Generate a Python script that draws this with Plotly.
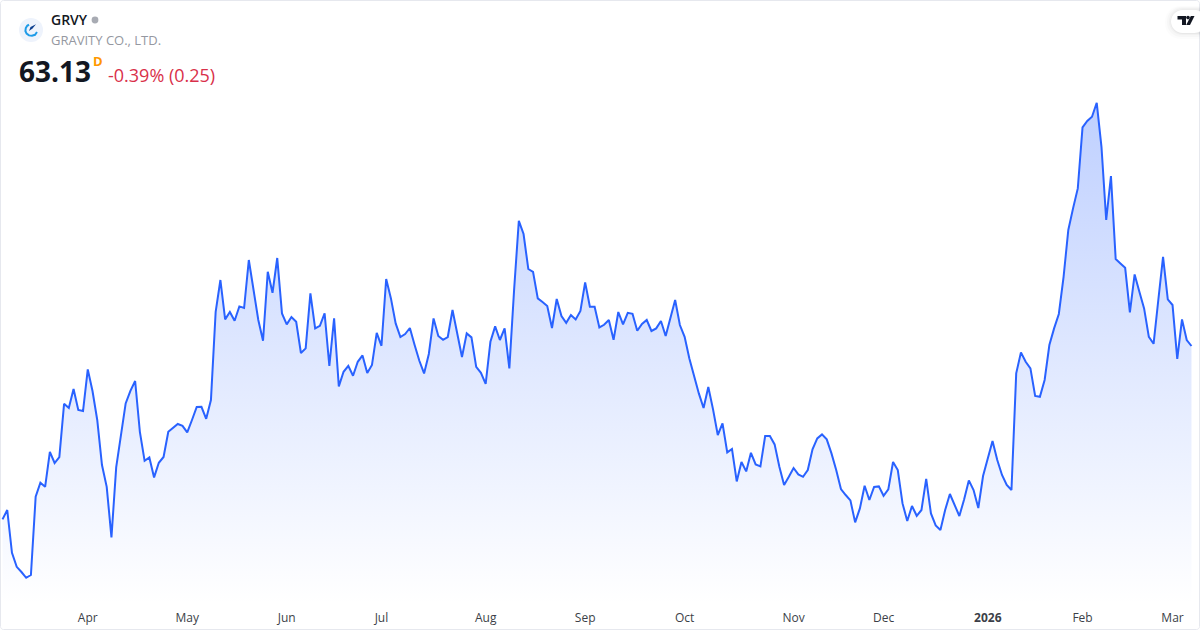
"""GRVY daily area chart, TradingView mini widget style."""

import pandas as pd
import plotly.graph_objects as go

WIDTH = 1200
HEIGHT = 630
BOTTOM = 26
PLOT_H = HEIGHT - BOTTOM

prices = [
    54.46, 54.93, 52.79, 52.09, 51.83, 51.54, 51.68, 55.59, 56.29, 56.09,
    57.84, 57.28, 57.58, 60.24, 60.03, 60.98, 59.93, 59.88, 61.96, 60.88,
    59.43, 57.18, 56.09, 53.56, 57.06, 58.68, 60.26, 60.89, 61.38, 58.84,
    57.39, 57.56, 56.56, 57.29, 57.58, 58.84, 59.04, 59.23, 59.14, 58.81,
    59.43, 60.08, 60.09, 59.49, 60.43, 64.84, 66.43, 64.46, 64.83, 64.39,
    65.11, 65.03, 67.43, 65.93, 64.43, 63.39, 66.84, 65.79, 67.53, 64.76,
    64.21, 64.58, 64.34, 62.78, 63.01, 65.76, 64.01, 64.14, 64.76, 62.13,
    64.51, 61.11, 61.84, 62.14, 61.64, 62.34, 62.66, 61.78, 62.18, 63.79,
    63.14, 66.48, 65.51, 64.26, 63.58, 63.73, 64.03, 63.18, 62.39, 61.76,
    62.73, 64.51, 63.63, 63.44, 63.58, 64.93, 63.68, 62.58, 63.76, 63.56,
    62.09, 61.79, 61.24, 63.34, 64.11, 63.43, 64.01, 62.01, 65.93, 69.39,
    68.73, 66.98, 66.84, 65.51, 65.33, 65.13, 64.03, 65.48, 64.63, 64.29,
    64.68, 64.46, 64.88, 66.31, 65.09, 65.09, 64.06, 64.19, 64.43, 63.44,
    64.83, 64.21, 64.79, 64.74, 63.89, 64.23, 64.43, 63.88, 64.01, 64.38,
    63.63, 64.51, 65.43, 64.18, 63.59, 62.51, 61.59, 60.76, 60.03, 61.08,
    59.96, 58.68, 59.26, 57.81, 57.98, 56.36, 57.33, 56.86, 57.79, 57.21,
    57.11, 58.63, 58.63, 58.21, 57.09, 56.18, 56.59, 57.03, 56.71, 56.59,
    56.93, 57.96, 58.51, 58.71, 58.46, 57.76, 56.93, 55.98, 55.68, 55.41,
    54.31, 55.01, 56.14, 55.43, 56.08, 56.11, 55.64, 55.96, 57.33, 56.93,
    55.26, 54.38, 55.13, 54.64, 54.93, 56.49, 54.76, 54.16, 53.93, 54.93,
    55.73, 55.13, 54.63, 55.46, 56.41, 55.93, 55.03, 56.63, 57.51, 58.38,
    57.43, 56.68, 56.18, 55.93, 61.76, 62.81, 62.34, 62.01, 60.63, 60.59,
    61.43, 63.18, 64.01, 64.73, 66.59, 68.93, 70.01, 71.01, 74.06, 74.38,
    74.59, 75.29, 73.09, 69.43, 71.63, 67.48, 67.26, 67.04, 64.81, 66.71,
    65.84, 65.01, 63.59, 63.24, 65.43, 67.59, 65.46, 65.18, 62.49, 64.46,
    63.43, 63.13,
]

holidays = [
    "2025-04-18", "2025-05-26", "2025-06-19", "2025-07-04", "2025-09-01",
    "2025-11-27", "2025-12-25", "2026-01-01", "2026-01-19", "2026-02-16",
]
dates = [
    d.strftime("%Y-%m-%d")
    for d in pd.bdate_range("2025-03-06", "2026-03-06")
    if d.strftime("%Y-%m-%d") not in holidays
]

tick_dates = [
    "2025-04-01", "2025-05-01", "2025-06-02", "2025-07-01", "2025-08-01", "2025-09-02",
    "2025-10-01", "2025-11-03", "2025-12-01", "2026-01-02", "2026-02-02", "2026-03-02",
]
tick_labels = ["Apr", "May", "Jun", "Jul", "Aug", "Sep", "Oct", "Nov", "Dec", "<b>2026</b>", "Feb", "Mar"]

symbol = "GRVY"
company = "GRAVITY CO., LTD."
last_price = "63.13"
interval = "D"
change = "-0.39% (0.25)"

LINE = "#2962FF"
FONT = "Open Sans"


def px(x):
    return x / WIDTH


def py(y):
    return 1 - y / PLOT_H


def path(points):
    # points are pixel coordinates, straight segments only
    head, *rest = points
    return f"M {px(head[0])},{py(head[1])} " + " ".join(f"L {px(a)},{py(b)}" for a, b in rest)


def rounded(x0, y0, x1, y1, r):
    k = r * 0.45
    return (
        f"M {px(x0 + r)},{py(y0)} L {px(x1 - r)},{py(y0)} "
        f"C {px(x1 - k)},{py(y0)} {px(x1)},{py(y0 + k)} {px(x1)},{py(y0 + r)} "
        f"L {px(x1)},{py(y1 - r)} "
        f"C {px(x1)},{py(y1 - k)} {px(x1 - k)},{py(y1)} {px(x1 - r)},{py(y1)} "
        f"L {px(x0 + r)},{py(y1)} "
        f"C {px(x0 + k)},{py(y1)} {px(x0)},{py(y1 - k)} {px(x0)},{py(y1 - r)} "
        f"L {px(x0)},{py(y0 + r)} "
        f"C {px(x0)},{py(y0 + k)} {px(x0 + k)},{py(y0)} {px(x0 + r)},{py(y0)} Z"
    )


def circle(cx, cy, r, color):
    return dict(
        type="circle", xref="paper", yref="paper",
        x0=px(cx - r), x1=px(cx + r), y0=py(cy + r), y1=py(cy - r),
        fillcolor=color, line_width=0,
    )


def shape(d, fill="rgba(0,0,0,0)", color="rgba(0,0,0,0)", width=0):
    return dict(
        type="path", xref="paper", yref="paper", path=d,
        fillcolor=fill, line=dict(color=color, width=width),
    )


def label(x, y, text, size, color, weight=400):
    return dict(
        xref="paper", yref="paper", x=px(x), y=py(y), text=text, showarrow=False,
        xanchor="left", yanchor="middle", xshift=0, borderpad=0,
        font=dict(family=FONT, size=size, color=color, weight=weight),
    )


fig = go.Figure()

fig.add_trace(go.Scatter(
    x=dates,
    y=prices,
    mode="lines",
    line=dict(color=LINE, width=2),
    fill="tozeroy",
    fillgradient=dict(
        type="vertical",
        start=50.23,
        stop=75.29,
        colorscale=[[0, "rgba(41,98,255,0)"], [1, "rgba(41,98,255,0.3)"]],
    ),
    hovertemplate="%{x}<br>%{y:.2f}<extra></extra>",
))

shapes = [
    # widget frame
    shape(rounded(0.5, 0.5, 1199.5, 629.5, 3), color="#e6e8ee", width=1),
    # logo
    circle(31, 30, 12, "#eef3fc"),
    shape(path([(29, 24.6), (27.2, 25.8), (25.8, 28), (25.4, 31),
                (26.6, 33.6), (29, 35.4), (32, 35.8), (35, 34.8), (37, 32)]),
          color="#1e9be8", width=2),
    shape(path([(29, 31), (30.5, 27), (36, 24.3), (32.5, 28.5)]) + " Z", fill="#0d3f8f"),
    # status dot
    circle(95, 20, 3.4, "#a8abb3"),
    # TradingView badge, soft shadow first
    shape(rounded(1165, 6, 1212, 39, 15), fill="rgba(0,0,0,0.012)"),
    shape(rounded(1167, 7, 1212, 37, 14), fill="rgba(0,0,0,0.018)"),
    shape(rounded(1169, 8, 1212, 35, 13), fill="rgba(0,0,0,0.025)"),
    shape(rounded(1170.5, 9.5, 1212, 34, 12), fill="rgba(0,0,0,0.035)"),
    shape(rounded(1171, 10, 1206, 33, 11.5), fill="#ffffff"),
    shape(path([(1177.5, 16), (1186, 16), (1186, 25), (1182, 25), (1182, 19.5), (1177.5, 19.5)]) + " Z", fill="#131722"),
    circle(1188, 17.6, 1.8, "#131722"),
    shape(path([(1190.8, 16), (1194.5, 16), (1190, 25), (1186.2, 25)]) + " Z", fill="#131722"),
]

annotations = [
    label(50, 20, symbol, 14, "#131722", 600),
    label(50, 40.5, company, 13, "#9598a1"),
    label(18, 71, last_price, 28, "#131722", 700),
    label(92, 61, interval, 13, "#ff9800", 700),
    label(106.5, 75, change, 18, "#d9304a"),
]

fig.update_layout(
    width=WIDTH,
    height=HEIGHT,
    margin=dict(l=0, r=0, t=0, b=BOTTOM),
    paper_bgcolor="white",
    plot_bgcolor="white",
    showlegend=False,
    shapes=shapes,
    annotations=annotations,
    font=dict(family=FONT, size=12, color="#3c3f48"),
)
fig.update_xaxes(
    type="category",
    categoryorder="array",
    categoryarray=dates,
    range=[-0.528, 252.8],
    tickmode="array",
    tickvals=tick_dates,
    ticktext=tick_labels,
    showgrid=False,
    zeroline=False,
    showline=False,
    ticks="outside",
    ticklen=3,
    tickcolor="rgba(0,0,0,0)",
)
fig.update_yaxes(range=[50.23, 80.43], visible=False)

fig.write_html(
    "out.html",
    config={"displayModeBar": False},
    post_script="document.body.style.margin='0';",
)
